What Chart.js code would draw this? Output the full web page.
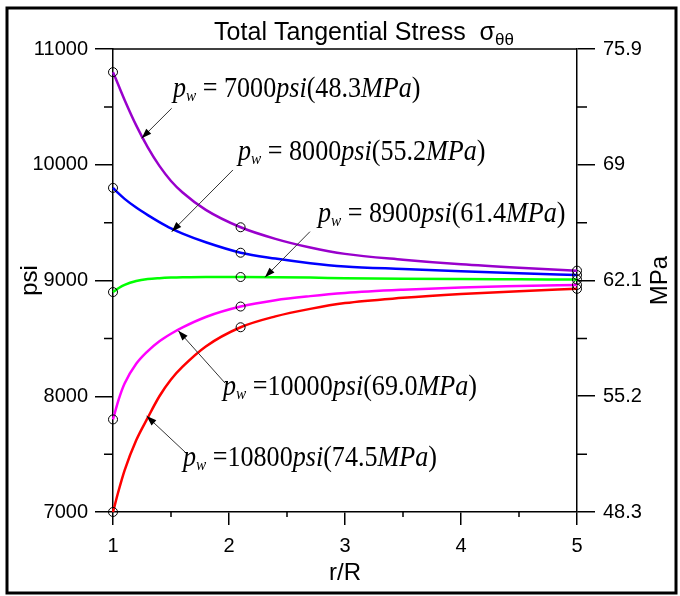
<!DOCTYPE html>
<html>
<head>
<meta charset="utf-8">
<script src="https://cdn.jsdelivr.net/npm/chart.js@4.4.1/dist/chart.umd.min.js"></script>
<style>
  body { margin:0; background:#fff; }
  #wrap { width:680px; height:596px; }
</style>
</head>
<body>
<div id="wrap"><canvas id="chart" width="680" height="596"></canvas></div>
<script>
// r/R sample points
const rValues = [1, 1.05, 1.1, 1.2, 1.3, 1.4, 1.5, 1.6, 1.8, 2.1, 2.4, 2.7, 3, 3.5, 4, 4.5, 5];
// total tangential stress, psi
const pw7000  = [10800, 10680, 10560, 10340, 10150, 9990, 9860, 9760, 9610, 9460, 9360, 9285, 9230, 9180, 9140, 9110, 9085];
const pw8000  = [9800, 9750, 9705, 9630, 9565, 9505, 9450, 9405, 9330, 9240, 9190, 9150, 9122, 9100, 9080, 9062, 9047];
const pw8900  = [8900, 8935, 8962, 8995, 9012, 9020, 9025, 9028, 9031, 9030, 9028, 9025, 9020, 9015, 9012, 9010, 9008];
const pw10000 = [7800, 7975, 8110, 8280, 8390, 8475, 8540, 8595, 8685, 8775, 8830, 8865, 8892, 8920, 8940, 8952, 8962];
const pw10800 = [7000, 7190, 7360, 7620, 7815, 8000, 8145, 8255, 8430, 8596, 8690, 8755, 8805, 8850, 8883, 8908, 8928];
const markerR = [1, 2.1, 5];

const psiTicks = [7000, 8000, 9000, 10000, 11000];
const mpaTicks = ['48.3', '55.2', '62.1', '69', '75.9'];
const rTicks = [1, 2, 3, 4, 5];

const pwPsi = ['7000', '8000', '8900', '10000', '10800'];
const pwMPa = ['48.3', '55.2', '61.4', '69.0', '74.5'];
const colors = ['#9900CC', '#0000FF', '#00FF00', '#FF00FF', '#FF0000'];
const series = [pw7000, pw8000, pw8900, pw10000, pw10800];

// label placement (data coords): text start, arrow tail, arrow head
const notes = [
  { tx:1.517, ty:10585, ax:1.506, ay:10488, hx:1.247, hy:10229, sp:true },
  { tx:2.078, ty:10041, ax:2.034, ay:9955,  hx:1.506, hy:9422,  sp:true },
  { tx:2.767, ty:9505,  ax:2.698, ay:9422,  hx:2.31,  hy:9028,  sp:true },
  { tx:1.948, ty:8011,  ax:1.966, ay:8114,  hx:1.563, hy:8566,  sp:false },
  { tx:1.603, ty:7397,  ax:1.621, ay:7518,  hx:1.29,  hy:7829,  sp:false }
];

const SANS = '"Liberation Sans", Arial, sans-serif';
const SERIF = '"Liberation Serif", "Times New Roman", serif';

const datasets = series.map((vals, i) => ({
  label: 'pw=' + pwPsi[i],
  data: rValues.map((r, j) => ({ x: r, y: vals[j] })),
  borderColor: colors[i],
  borderWidth: 2.5,
  cubicInterpolationMode: 'monotone',
  pointRadius: c => markerR.includes(c.raw.x) ? 4.5 : 0,
  pointBorderColor: '#000',
  pointBackgroundColor: 'rgba(0,0,0,0)',
  pointBorderWidth: 1,
  clip: false
}));

const extras = {
  id: 'extras',
  afterDraw(chart) {
    const ctx = chart.ctx, a = chart.chartArea;
    const xs = chart.scales.x, ys = chart.scales.y;
    ctx.save();
    ctx.strokeStyle = '#000'; ctx.fillStyle = '#000';
    // top line of box
    ctx.lineWidth = 1.5;
    ctx.beginPath(); ctx.moveTo(a.left, a.top); ctx.lineTo(a.right, a.top); ctx.stroke();
    // minor ticks
    ctx.beginPath();
    for (let v = 7500; v < 11000; v += 1000) {
      const y = ys.getPixelForValue(v);
      ctx.moveTo(a.left - 9, y); ctx.lineTo(a.left, y);
      ctx.moveTo(a.right, y); ctx.lineTo(a.right + 10, y);
    }
    for (let r = 1.5; r < 5; r += 1) {
      const x = xs.getPixelForValue(r);
      ctx.moveTo(x, a.bottom); ctx.lineTo(x, a.bottom + 5);
    }
    ctx.stroke();

    // title
    ctx.textBaseline = 'alphabetic';
    const t1 = 'Total Tangential Stress  ';
    ctx.font = '25px ' + SANS;
    const w1 = ctx.measureText(t1).width;
    const wS = ctx.measureText('σ').width;
    ctx.font = '17px ' + SANS;
    const wT = ctx.measureText('θθ').width;
    let x0 = 364 - (w1 + wS + wT) / 2;
    ctx.font = '25px ' + SANS; ctx.fillText(t1, x0, 40); x0 += w1;
    ctx.fillText('σ', x0, 40); x0 += wS;
    ctx.font = '17px ' + SANS; ctx.fillText('θθ', x0, 45);

    // axis titles
    ctx.font = '24px ' + SANS;
    ctx.textAlign = 'center'; ctx.textBaseline = 'middle';
    ctx.fillText('r/R', (a.left + a.right) / 2, 573);
    ctx.save(); ctx.translate(30, (a.top + a.bottom) / 2); ctx.rotate(-Math.PI / 2);
    ctx.fillText('psi', 0, 0); ctx.restore();
    ctx.save(); ctx.translate(660, (a.top + a.bottom) / 2); ctx.rotate(-Math.PI / 2);
    ctx.fillText('MPa', 0, 0); ctx.restore();

    // annotations
    notes.forEach((n, i) => {
      const tx = xs.getPixelForValue(n.tx), ty = ys.getPixelForValue(n.ty);
      const ax = xs.getPixelForValue(n.ax), ay = ys.getPixelForValue(n.ay);
      const hx = xs.getPixelForValue(n.hx), hy = ys.getPixelForValue(n.hy);
      ctx.strokeStyle = '#333'; ctx.lineWidth = 1;
      ctx.beginPath(); ctx.moveTo(ax, ay); ctx.lineTo(hx, hy); ctx.stroke();
      const ang = Math.atan2(hy - ay, hx - ax);
      ctx.beginPath();
      ctx.moveTo(hx, hy);
      ctx.lineTo(hx - 10 * Math.cos(ang) + 3.5 * Math.sin(ang), hy - 10 * Math.sin(ang) - 3.5 * Math.cos(ang));
      ctx.lineTo(hx - 10 * Math.cos(ang) - 3.5 * Math.sin(ang), hy - 10 * Math.sin(ang) + 3.5 * Math.cos(ang));
      ctx.closePath(); ctx.fill();

      ctx.textAlign = 'left'; ctx.textBaseline = 'alphabetic';
      const parts = [
        ['p', 'italic ', 29, 0],
        ['w', 'italic ', 17, 4],
        [n.sp ? ' = ' : ' =', '', 29, 0],
        [pwPsi[i], '', 29, 0],
        ['psi', 'italic ', 29, 0],
        ['(', '', 29, 0],
        [pwMPa[i], '', 29, 0],
        ['MPa', 'italic ', 29, 0],
        [')', '', 29, 0]
      ];
      ctx.save();
      ctx.translate(tx, ty);
      ctx.scale(0.9, 1);
      let x = 0;
      parts.forEach(p => {
        ctx.font = p[1] + p[2] + 'px ' + SERIF;
        ctx.fillText(p[0], x, p[3]);
        x += ctx.measureText(p[0]).width;
      });
      ctx.restore();
    });

    // outer frame
    ctx.strokeStyle = '#000'; ctx.lineWidth = 3;
    ctx.strokeRect(7, 8, 669, 585);
    ctx.restore();
  }
};

const tickFont = { family: SANS, size: 20 };

new Chart(document.getElementById('chart'), {
  type: 'line',
  data: { datasets },
  options: {
    responsive: false,
    devicePixelRatio: 1,
    animation: false,
    layout: { padding: { top: 49, left: 0, right: 0, bottom: 0 } },
    plugins: { legend: { display: false }, tooltip: { enabled: false } },
    scales: {
      x: {
        type: 'linear', position: 'bottom', min: 1, max: 5,
        afterBuildTicks: s => { s.ticks = rTicks.map(v => ({ value: v })); },
        ticks: { font: tickFont, color: '#000', padding: 9, callback: v => String(v) },
        grid: { drawOnChartArea: false, tickLength: 13, color: '#000', lineWidth: 1.5 },
        border: { color: '#000', width: 1.5 },
        afterFit: s => { s.height = 84; }
      },
      y: {
        type: 'linear', position: 'left', min: 7000, max: 11000,
        afterBuildTicks: s => { s.ticks = psiTicks.map(v => ({ value: v })); },
        ticks: { font: tickFont, color: '#000', padding: 7, callback: v => String(v) },
        grid: { drawOnChartArea: false, tickLength: 18, color: '#000', lineWidth: 1.5 },
        border: { color: '#000', width: 1.5 },
        afterFit: s => { s.width = 113; }
      },
      y2: {
        type: 'linear', position: 'right', min: 48.3, max: 75.9,
        afterBuildTicks: s => { s.ticks = mpaTicks.map(v => ({ value: parseFloat(v) })); },
        ticks: { font: tickFont, color: '#000', padding: 8,
          callback: (v, i) => mpaTicks[i] },
        grid: { drawOnChartArea: false, tickLength: 18, color: '#000', lineWidth: 1.5 },
        border: { color: '#000', width: 1.5 },
        afterFit: s => { s.width = 103; }
      }
    }
  },
  plugins: [extras]
});
</script>
</body>
</html>
